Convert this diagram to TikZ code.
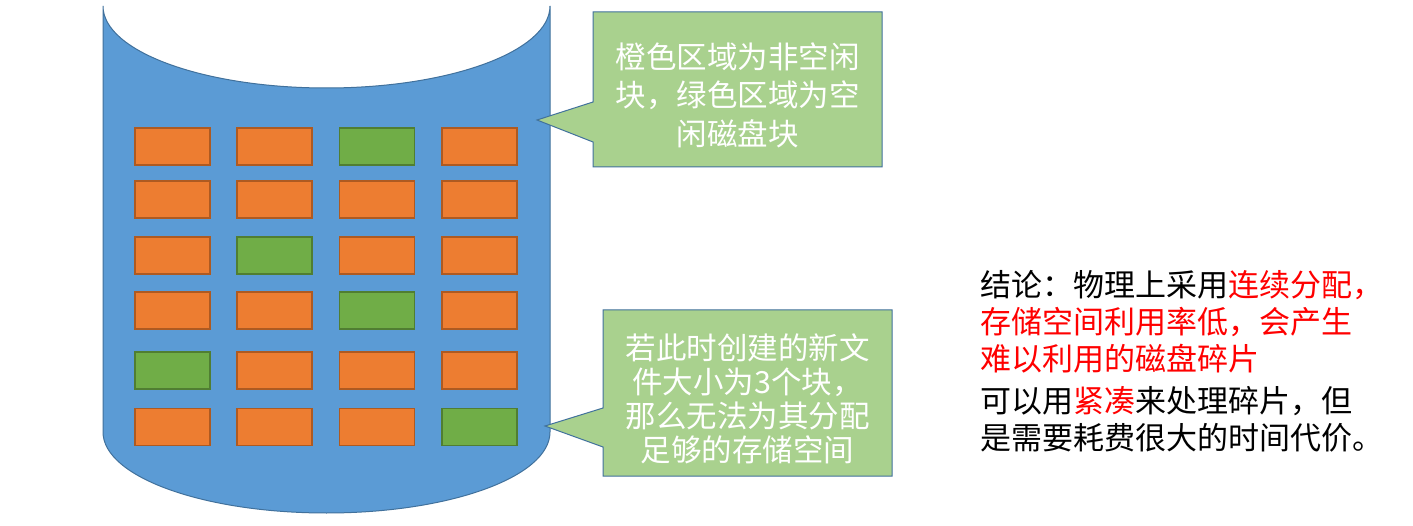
\documentclass[tikz,border=0pt]{standalone}
\usepackage{fontspec}
\setmainfont{Noto Sans CJK SC}
\definecolor{diskF}{HTML}{5B9BD5}
\definecolor{blueB}{HTML}{41719C}
\definecolor{orangeF}{HTML}{ED7D31}
\definecolor{orangeB}{HTML}{AE5A21}
\definecolor{greenF}{HTML}{70AD47}
\definecolor{greenB}{HTML}{507E32}
\definecolor{calloutF}{HTML}{A9D18E}
\definecolor{hot}{HTML}{FF0000}
\begin{document}
\begin{tikzpicture}[x=1pt,y=1pt,
  blk/.style={draw=orangeB, fill=orangeF, line width=1.3pt, minimum width=75pt, minimum height=37pt, inner sep=0pt},
  freeblk/.style={blk, draw=greenB, fill=greenF},
  ctext/.style={text=white, align=center, inner sep=0pt},
  callout/.style={fill=calloutF, draw=blueB, line width=1pt, line join=miter},
  note/.style={align=left, inner sep=0pt, anchor=west}]
\useasboundingbox (0,0) rectangle (1413,525);
\fill[white] (0,0) rectangle (1413,525);
% disk cylinder
\draw[fill=diskF, draw=blueB, line width=1pt]
  (103,519) -- (103,93)
  arc[start angle=180, end angle=360, x radius=223.5, y radius=81]
  -- (550,519)
  arc[start angle=0, end angle=-180, x radius=223.5, y radius=82] -- cycle;
% blocks
\foreach \r/\y/\cols in {1/378.5/{o,o,g,o}, 2/325.5/{o,o,o,o}, 3/269.5/{o,g,o,o}, 4/214.5/{o,o,g,o}, 5/154.5/{g,o,o,o}, 6/98/{o,o,o,g}}{
  \foreach \k [count=\c] in \cols {
    \pgfmathsetmacro{\xx}{{172.5,274.5,377,479.5}[\c-1]}
    \if\k g
      \node[freeblk] (b-\r-\c) at (\xx,\y) {};
    \else
      \node[blk] (b-\r-\c) at (\xx,\y) {};
    \fi
  }
}
% callout 1
\coordinate (t1) at (537,405);
\path[callout] (593,513) -- (882,513) -- (882,358) -- (593,358) -- (593,383) -- (t1) -- (593,423) -- cycle;
\node[ctext, font=\fontsize{30.5}{38.5}\selectfont] (c1) at (737.5,430) {橙色区域为非空闲\\块，绿色区域为空\\闲磁盘块};
% callout 2
\coordinate (t2) at (545,99);
\path[callout] (603,215) -- (892,215) -- (892,49) -- (603,49) -- (603,78) -- (t2) -- (603,117) -- cycle;
\node[ctext, font=\fontsize{30.5}{34}\selectfont] (c2) at (747.5,126) {若此时创建的新文\\件大小为3个块，\\那么无法为其分配\\足够的存储空间};
% conclusion
\node[note, font=\fontsize{31}{37}\selectfont] (concl) at (980,164) {结论：物理上采用\textcolor{hot}{连续分配，}\\\textcolor{hot}{存储空间利用率低，会产生}\\\textcolor{hot}{难以利用的磁盘碎片}\\[5pt]可以用\textcolor{hot}{紧凑}来处理碎片，但\\是需要耗费很大的时间代价。};
\end{tikzpicture}
\end{document}
